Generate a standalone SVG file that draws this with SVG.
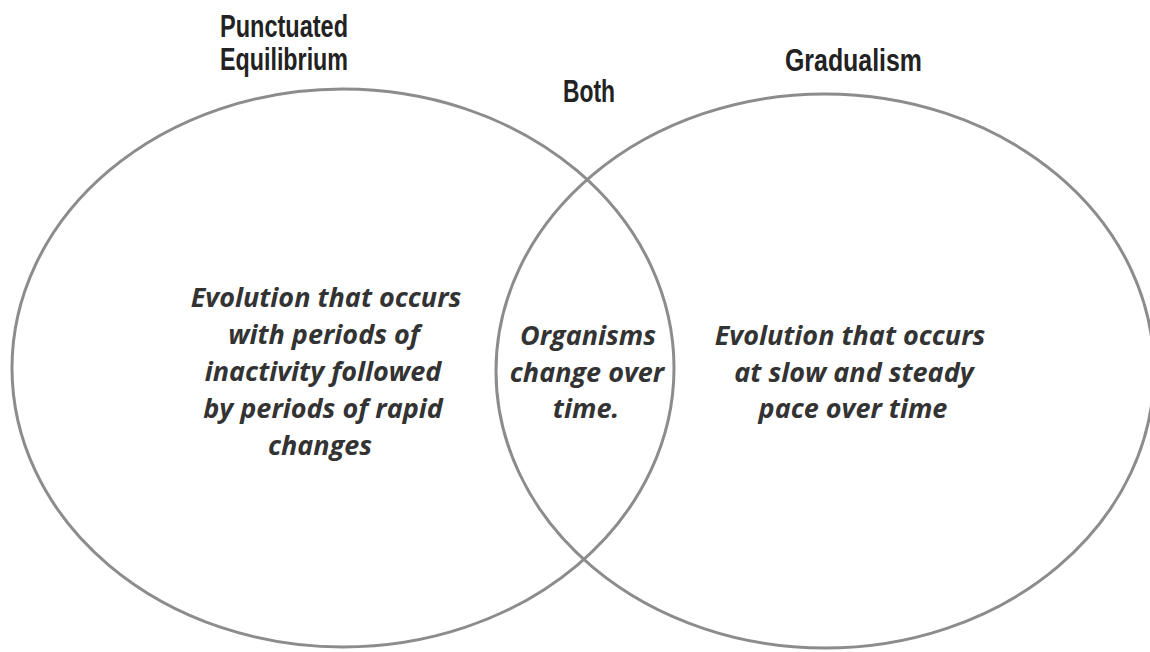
<svg xmlns="http://www.w3.org/2000/svg" width="1150" height="652" viewBox="0 0 1150 652">
<style>
.ring{fill:none;stroke:#8c8c8c;stroke-width:3}
.title{font-family:"Liberation Sans","DejaVu Sans",sans-serif;font-weight:bold;font-size:32px;fill:#222}
.body{font-family:"Open Sans","DejaVu Sans",sans-serif;font-weight:bold;font-style:italic;font-size:27px;fill:#333;text-anchor:middle}
</style>
<rect width="1150" height="652" fill="#fff"/>
<g id="left-set">
<ellipse class="ring" cx="343" cy="368" rx="331" ry="279"/>
<text class="title" x="220" y="37" textLength="128" lengthAdjust="spacingAndGlyphs">Punctuated</text>
<text class="title" x="220" y="70" textLength="128" lengthAdjust="spacingAndGlyphs">Equilibrium</text>
<text class="body" x="326" y="307">Evolution that occurs</text>
<text class="body" x="324" y="344">with periods of</text>
<text class="body" x="323" y="381">inactivity followed</text>
<text class="body" x="323" y="418">by periods of rapid</text>
<text class="body" x="320" y="455">changes</text>
</g>
<g id="right-set">
<ellipse class="ring" cx="825" cy="371" rx="329" ry="277"/>
<text class="title" x="785" y="71" textLength="137" lengthAdjust="spacingAndGlyphs">Gradualism</text>
<text class="body" x="850" y="345">Evolution that occurs</text>
<text class="body" x="854" y="382">at slow and steady</text>
<text class="body" x="853" y="418">pace over time</text>
</g>
<g id="both">
<text class="title" x="563" y="102" textLength="52" lengthAdjust="spacingAndGlyphs">Both</text>
<text class="body" x="588" y="345">Organisms</text>
<text class="body" x="587" y="382">change over</text>
<text class="body" x="586" y="418">time.</text>
</g>
<g id="connectors"></g>
</svg>
